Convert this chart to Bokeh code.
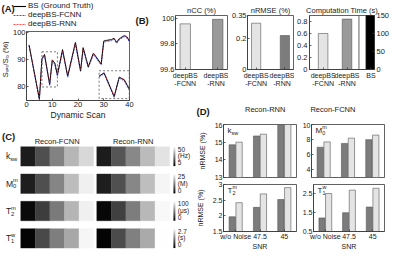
import numpy as np
from bokeh.plotting import figure
from bokeh.models import (Range1d, LinearAxis, FixedTicker, Label, Legend, LegendItem,
                          ColumnDataSource, Span, LinearColorMapper, Spacer)
from bokeh.layouts import row, column
from bokeh.transform import dodge
from bokeh.embed import file_html
from bokeh.resources import INLINE

# ------------------------------------------------------------------ data
# (A) saturation signal vs dynamic scan
scan = [1, 5, 6, 7, 9, 10, 11, 12, 14, 16, 19, 21, 22, 24, 26, 29, 30, 31, 33, 34, 35, 36, 38, 39, 40]
bs_truth = [95.5, 75.5, 90.5, 92.0, 81.0, 90.0, 88.8, 84.5, 93.8, 84.0, 96.5, 86.0, 94.5, 87.5, 92.5,
            88.5, 97.0, 97.2, 97.5, 98.0, 96.5, 97.8, 99.0, 98.5, 97.0]
deep_fcnn = [95.2, 75.3, 90.1, 91.6, 80.6, 89.5, 88.3, 84.0, 93.2, 83.6, 95.9, 85.6, 94.0, 87.1, 92.0,
             88.1, 96.5, 96.8, 97.1, 97.6, 96.1, 97.4, 98.6, 98.1, 96.6]
deep_rnn = [95.6, 75.6, 90.6, 92.1, 81.2, 90.1, 88.9, 84.7, 93.9, 84.1, 96.6, 86.2, 94.6, 87.6, 92.6,
            88.6, 97.1, 97.3, 97.6, 98.1, 96.6, 97.9, 99.1, 98.6, 97.1]
a_xticks = [0, 10, 20, 30, 40]
a_yticks = [80, 90, 100]

# (B) metrics
b_methods = ["deepBS\n-FCNN", "deepBS\n-RNN"]
ncc_vals = [99.955, 99.99]
nrmse_vals = [0.30, 0.22]
time_dl = [0.60, 0.84]
time_bs = [150]
time_labels = ["deepBS\n-FCNN", "deepBS\n-RNN", "BS"]

# (C) maps: grey level of each phantom vial
c_names = [("k", "sw", ""), ("M", "0", "m"), ("T", "2", "m"), ("T", "1", "w")]
c_fcnn = [[10, 19, 28, 37, 43], [3.0, 7.8, 13.0, 18.5, 23.5], [4, 24, 48, 71, 94], [0.05, 0.78, 1.33, 1.78, 2.6]]
c_rnn = [[10, 20, 29, 38, 45], [3.0, 7.9, 13.2, 18.6, 24.0], [3, 25, 49, 72, 97], [0.05, 0.80, 1.35, 1.80, 2.68]]
c_low = [5, 0, 0, 0]
c_high = [50, 25, 100, 2.7]
c_cb_labels = [("50", "(Hz)", "5"), ("25", "(M)", "0"), ("100", "(\u03bcs)", "0"), ("2.7", "(s)", "0")]

# (D) nRMSE vs SNR
snr_labels = ["w/o Noise", "47.5", "45"]
ksw_rnn, ksw_fcnn = [14.85, 15.35, 16.0], [15.0, 15.45, 16.1]
m0_rnn, m0_fcnn = [7.0, 7.5, 8.0], [7.7, 8.2, 8.6]
t2_rnn, t2_fcnn = [1.97, 2.27, 2.52], [2.42, 2.70, 2.90]
t1_rnn, t1_fcnn = [1.22, 1.50, 1.80], [2.52, 2.70, 2.80]

# ------------------------------------------------------------------ style helpers
FONT = "Liberation Sans"
INK = "#1a1a1a"
EDGE = "#3a3a3a"
LIGHT = "#e4e4e4"
MID = "#9a9a9a"
DARK = "#7c7c7c"
BLUE = "#2a3cff"
RED = "#ff3a3a"
GREYS = ["#%02x%02x%02x" % (i, i, i) for i in range(256)]


def style_axis(ax, fs="7.5px"):
    ax.major_label_text_font = FONT
    ax.major_label_text_font_size = fs
    ax.major_label_text_color = INK
    ax.axis_label_text_font = FONT
    ax.axis_label_text_font_size = fs
    ax.axis_label_text_font_style = "normal"
    ax.axis_label_text_color = INK
    ax.axis_line_color = EDGE
    ax.axis_line_width = 0.8
    ax.major_tick_line_color = EDGE
    ax.major_tick_line_width = 0.8
    ax.major_tick_in = 2
    ax.major_tick_out = 0
    ax.minor_tick_line_color = None
    ax.major_label_standoff = 2
    ax.axis_label_standoff = 2


def make_fig(w, h, bl, br, bt, bb, xr, yr, axes=True, title=None):
    kw = {} if axes else dict(x_axis_type=None, y_axis_type=None)
    p = figure(width=w, height=h, x_range=xr, y_range=yr, output_backend="svg",
               toolbar_location=None, title=title, min_border_left=bl, min_border_right=br,
               min_border_top=bt, min_border_bottom=bb, **kw)
    p.background_fill_color = "white"
    p.border_fill_color = "white"
    p.outline_line_color = EDGE if axes else None
    p.outline_line_width = 0.8
    p.grid.visible = False
    if title:
        p.title.text_font = FONT
        p.title.text_font_size = "7.5px"
        p.title.text_font_style = "normal"
        p.title.text_color = INK
        p.title.align = "center"
        p.title.standoff = 2
        p.title.offset = 0
    return p


def set_ticks(ax, ticks, labels):
    ax.ticker = FixedTicker(ticks=list(ticks))
    ax.major_label_overrides = {t: l for t, l in zip(ticks, labels)}


def text(p, x, y, s, fs=7.5, xo=0, yo=0, align="left", base="middle", bold=False, angle=0.0):
    p.add_layout(Label(x=x, y=y, text=s, x_offset=xo, y_offset=yo, text_font=FONT,
                       text_font_size="%gpx" % fs, text_align=align, text_baseline=base,
                       text_font_style="bold" if bold else "normal", angle=angle,
                       text_color=INK))


def rich(p, x, y, base, sub="", sup="", fs=8.0, xo=0.0, yo=0.0, bw=0.6):
    text(p, x, y, base, fs=fs, xo=xo, yo=yo)
    w = fs * bw
    if sub:
        text(p, x, y, sub, fs=fs * 0.68, xo=xo + w, yo=yo - fs * 0.32)
    if sup:
        text(p, x, y, sup, fs=fs * 0.68, xo=xo + w, yo=yo + fs * 0.40)


def blank(w, h):
    return make_fig(w, h, 0, 0, 0, 0, Range1d(0, w), Range1d(0, h), axes=False)


# ------------------------------------------------------------------ (A)
XA, YA = (0, 40), (75, 100.5)
ZOOM_X, ZOOM_Y = (6, 12), (80, 93)
INSET_X, INSET_Y = (28.2, 39.9), (75.7, 86.0)

# header with "(A)" and the legend (legend entries reuse the series, which lie
# outside this strip's range and so draw nothing here)
hA = blank(134, 29)
l1 = hA.line(scan, bs_truth, line_color="black", line_width=1.1)
l2 = hA.line(scan, deep_fcnn, line_color=BLUE, line_width=0.9, line_dash="2 1")
l3 = hA.line(scan, deep_rnn, line_color=RED, line_width=0.9, line_dash="2 1")
legA = Legend(items=[LegendItem(label="BS (Ground Truth)", renderers=[l1]),
                     LegendItem(label="deepBS-FCNN", renderers=[l2]),
                     LegendItem(label="deepBS-RNN", renderers=[l3])],
              location=(13, 1), orientation="vertical", glyph_width=13, glyph_height=8,
              label_height=8, label_standoff=2, spacing=0, padding=0, margin=0,
              label_text_font=FONT, label_text_font_size="8px", label_text_color=INK,
              background_fill_alpha=0, border_line_color=None)
hA.add_layout(legA)
text(hA, 1, 21.5, "(A)", fs=9.5, bold=True)

yA = blank(9, 93)
text(yA, 4.5, 55.5, "S\u209b\u2090\u209c/S\u2080 (%)", fs=7.5, align="center", base="middle",
     angle=np.pi / 2)

pA = make_fig(125, 93, 14, 5, 2, 20, Range1d(*XA), Range1d(*YA))
for ax in pA.axis:
    style_axis(ax)
set_ticks(pA.xaxis[0], a_xticks, [str(t) for t in a_xticks])
set_ticks(pA.yaxis[0], a_yticks, [str(t) for t in a_yticks])
pA.yaxis.major_label_standoff = 1
pA.xaxis.axis_label = "Dynamic Scan"
pA.xaxis.axis_label_text_font_size = "8.5px"
pA.xaxis.axis_label_standoff = 0
pA.xaxis.major_label_standoff = 1


def draw_series(p, xs_, idx, **kw):
    p.line(xs_, [deep_fcnn[i] for i in idx], line_color=BLUE, line_width=0.8, line_dash="2 1", **kw)
    p.line(xs_, [bs_truth[i] for i in idx], line_color="black", line_width=1.0, **kw)
    p.line(xs_, [deep_rnn[i] for i in idx], line_color=RED, line_width=0.7, line_dash="1 2", **kw)


draw_series(pA, scan, list(range(len(scan))))

pA.quad(left=[ZOOM_X[0]], right=[ZOOM_X[1]], bottom=[ZOOM_Y[0]], top=[ZOOM_Y[1]],
        fill_color=None, line_color="#555555", line_dash="2 2", line_width=0.8)
pA.quad(left=[INSET_X[0]], right=[INSET_X[1]], bottom=[INSET_Y[0]], top=[INSET_Y[1]],
        fill_color=None, line_color="#555555", line_dash="2 2", line_width=0.8)

sx = (INSET_X[1] - INSET_X[0]) / (ZOOM_X[1] - ZOOM_X[0])
sy = (INSET_Y[1] - INSET_Y[0]) / (ZOOM_Y[1] - ZOOM_Y[0])
pA.extra_x_ranges = {"ix": Range1d(ZOOM_X[0] + (XA[0] - INSET_X[0]) / sx,
                                   ZOOM_X[0] + (XA[1] - INSET_X[0]) / sx)}
pA.extra_y_ranges = {"iy": Range1d(ZOOM_Y[0] + (YA[0] - INSET_Y[0]) / sy,
                                   ZOOM_Y[0] + (YA[1] - INSET_Y[0]) / sy)}
sel = [i for i, s in enumerate(scan) if ZOOM_X[0] <= s <= ZOOM_X[1]]
draw_series(pA, [scan[i] for i in sel], sel, x_range_name="ix", y_range_name="iy")

colA = column(hA, row(yA, pA))

# ------------------------------------------------------------------ (B)
xb = list(range(1, len(b_methods) + 1))

bLab = blank(22, 97)
text(bLab, 1, 88.7, "(B)", fs=9.5, bold=True)

pN = make_fig(72, 97, 17, 1, 15, 28, Range1d(0.7, 2.3), Range1d(99.6, 100.02), title="nCC (%)")
pN.vbar(x=xb, top=ncc_vals, bottom=99.0, width=0.32, fill_color=[LIGHT, MID],
        line_color="#555555", line_width=0.6)
for ax in pN.axis:
    style_axis(ax)
set_ticks(pN.xaxis[0], xb, b_methods)
set_ticks(pN.yaxis[0], [99.6, 99.8, 100], ["99.6", "99.8", "100"])
pN.yaxis.major_label_standoff = 1

pR = make_fig(66, 97, 15, 1, 15, 28, Range1d(0.7, 2.3), Range1d(0, 0.35), title="nRMSE (%)")
pR.vbar(x=xb, top=nrmse_vals, bottom=0, width=0.32, fill_color=[LIGHT, DARK],
        line_color="#555555", line_width=0.6)
for ax in pR.axis:
    style_axis(ax)
set_ticks(pR.xaxis[0], xb, b_methods)
set_ticks(pR.yaxis[0], [0, 0.2, 0.35], ["0", "0.2", "0.35"])
pR.yaxis.major_label_standoff = 1

xt = list(range(1, len(time_labels) + 1))
pT = make_fig(98, 97, 13, 17, 15, 28, Range1d(0.43, 3.15), Range1d(0, 0.9),
              title="Computation Time (s)")
pT.extra_y_ranges = {"bs": Range1d(0, 150)}
pT.add_layout(LinearAxis(y_range_name="bs"), "right")
pT.vbar(x=xt[:2], top=time_dl, bottom=0, width=0.4, fill_color=[LIGHT, MID],
        line_color="#555555", line_width=0.6)
pT.vbar(x=xt[2:], top=time_bs, bottom=0, width=0.4, fill_color="black",
        line_color="black", y_range_name="bs")
pT.add_layout(Span(location=(xt[1] + xt[2]) / 2, dimension="height", line_color=EDGE,
                   line_width=0.8))
for ax in pT.axis:
    style_axis(ax)
set_ticks(pT.xaxis[0], xt, time_labels)
set_ticks(pT.yaxis[0], [0, 0.2, 0.4, 0.6, 0.8], ["0", "0.2", "0.4", "0.6", "0.8"])
set_ticks(pT.yaxis[1], [0, 50, 100, 150], ["0", "50", "100", "150"])

for p_ in (pN, pR, pT):
    p_.xaxis.major_label_text_font_size = "7px"

# ------------------------------------------------------------------ (D) header
pH = blank(199, 25)
rh1 = pH.vbar(x=[], top=[], width=1, fill_color=DARK, line_color="#555555", line_width=0.6)
rh2 = pH.vbar(x=[], top=[], width=1, fill_color=LIGHT, line_color="#555555", line_width=0.6)
legD = Legend(items=[LegendItem(label="Recon-RNN", renderers=[rh1]),
                     LegendItem(label="Recon-FCNN", renderers=[rh2])],
              location=(31, 8), orientation="horizontal", glyph_width=18, glyph_height=7,
              label_height=7, label_standoff=3, spacing=4, padding=0, margin=0,
              label_text_font=FONT, label_text_font_size="7.5px", label_text_color=INK,
              background_fill_alpha=0, border_line_color=None)
pH.add_layout(legD)
text(pH, 3, 11.4, "(D)", fs=9.5, bold=True)

# ------------------------------------------------------------------ (D) grid
xs = list(range(1, len(snr_labels) + 1))


def dplot(w, h, bl, br, bt, bb, yr, yt, ylab, rnn, fcnn, bottom_row, left_col, name):
    p = make_fig(w, h, bl, br, bt, bb, Range1d(0.5, len(xs) + 0.5), Range1d(*yr))
    src = ColumnDataSource(dict(x=xs, rnn=rnn, fcnn=fcnn))
    p.vbar(x=dodge("x", -0.14, range=p.x_range), top="rnn", bottom=0, width=0.26,
           fill_color=DARK, line_color="#555555", line_width=0.6, source=src)
    p.vbar(x=dodge("x", 0.14, range=p.x_range), top="fcnn", bottom=0, width=0.26,
           fill_color=LIGHT, line_color="#555555", line_width=0.6, source=src)
    for ax in p.axis:
        style_axis(ax, "7px")
        ax.major_label_standoff = 1
    set_ticks(p.xaxis[0], xs, snr_labels)
    set_ticks(p.yaxis[0], yt, ylab)
    if bottom_row:
        p.xaxis.axis_label = "SNR"
        p.xaxis.axis_label_standoff = 0
    else:
        p.xaxis.visible = False
    if left_col:
        p.yaxis.axis_label = "nRMSE (%)"
        p.yaxis.axis_label_standoff = 6
    rich(p, 0.5, yr[1], name[0], name[1], name[2], fs=8, xo=4, yo=-6,
         bw={"k": 0.5, "M": 0.83, "T": 0.61}[name[0]])
    return p


pTL = dplot(106, 58, 30, 3, 2, 3, (13, 16), [13, 14, 15, 16], ["13", "14", "15", "16"],
            ksw_rnn, ksw_fcnn, False, True, c_names[0])
pTR = dplot(93, 58, 11, 8, 2, 3, (3, 10), [4, 6, 8, 10], ["4", "6", "8", "10"],
            m0_rnn, m0_fcnn, False, False, c_names[1])
pBL = dplot(106, 72, 30, 3, 4, 19, (1.5, 3), [1.5, 2, 2.5, 3], ["1.5", "2", "2.5", "3"],
            t2_rnn, t2_fcnn, True, True, c_names[2])
pBR = dplot(93, 72, 11, 8, 4, 19, (0.5, 3.0), [0.5, 1.5, 2.5], ["0.5", "1.5", "2.5"],
            t1_rnn, t1_fcnn, True, False, c_names[3])

# ------------------------------------------------------------------ (C)
BLOCK_LEFT = [20.7, 98.3]
TILE_W = 14.86
ROW_TOP = [150.8, 179.0, 207.2, 235.4]
ROW_H = 20.0
CB_X, CB_W = 176.5, 2.0

pC = make_fig(193, 130, 0, 0, 0, 0, Range1d(0, 197), Range1d(-260, -125.8), axes=False)
for r in range(len(c_names)):
    mapper = LinearColorMapper(palette=GREYS, low=c_low[r], high=c_high[r])
    for b, vals in enumerate([c_fcnn[r], c_rnn[r]]):
        n = len(vals)
        src = ColumnDataSource(dict(
            x=[BLOCK_LEFT[b] + (i + 0.5) * TILE_W for i in range(n)],
            y=[-(ROW_TOP[r] + ROW_H / 2)] * n,
            v=vals))
        pC.rect(x="x", y="y", width=TILE_W, height=ROW_H, source=src,
                fill_color={"field": "v", "transform": mapper},
                line_color={"field": "v", "transform": mapper}, line_width=0.4)
    ramp = np.linspace(c_low[r], c_high[r], 64).reshape(-1, 1)
    pC.image(image=[ramp], x=CB_X, y=-(ROW_TOP[r] + ROW_H), dw=CB_W, dh=ROW_H,
             color_mapper=mapper)
    top_l, unit_l, bot_l = c_cb_labels[r]
    text(pC, CB_X + 4.5, -(ROW_TOP[r] + 2.5), top_l, fs=6.5)
    text(pC, CB_X + 4.5, -(ROW_TOP[r] + 9.5), unit_l, fs=6.5)
    text(pC, CB_X + 4.5, -(ROW_TOP[r] + 16.5), bot_l, fs=6.5)
    base, sub, sup = c_names[r]
    rich(pC, 5.5, -(ROW_TOP[r] + ROW_H / 2), base, sub, sup, fs=8.5,
         bw={"k": 0.5, "M": 0.83, "T": 0.61}[base])

text(pC, BLOCK_LEFT[0] + 2.5 * TILE_W, -145, "Recon-FCNN", fs=7.5, align="center")
text(pC, BLOCK_LEFT[1] + 2.5 * TILE_W, -145, "Recon-RNN", fs=7.5, align="center")
text(pC, 1.5, -140, "(C)", fs=9.5, bold=True)

# ------------------------------------------------------------------ layout
b_col = column(row(bLab, pN, pR, pT), row(Spacer(width=59, height=25), pH))
d_grid = column(row(pTL, pTR), row(pBL, pBR))
layout = column(row(colA, b_col), row(pC, d_grid))

open("out.html", "w").write(file_html(layout, INLINE))
